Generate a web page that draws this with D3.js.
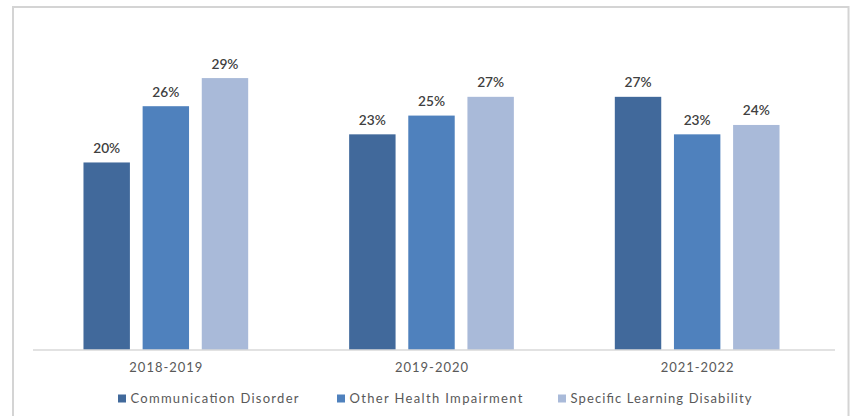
<!DOCTYPE html>
<html>
<head>
<meta charset="utf-8">
<script src="https://cdn.jsdelivr.net/npm/d3@7"></script>
<style>
  html, body { margin: 0; padding: 0; background: #ffffff; }
  svg { display: block; }
  text { font-family: Lato, "Open Sans", "Liberation Sans", sans-serif; }
</style>
</head>
<body>
<script>
// School years shown along the x axis
const categories = ["2018-2019", "2019-2020", "2021-2022"];
// Disability categories (one bar per year each)
const seriesNames = ["Communication Disorder", "Other Health Impairment", "Specific Learning Disability"];
// Share of students in each disability category, per year
const communicationDisorder = [0.20, 0.23, 0.27];
const otherHealthImpairment = [0.26, 0.25, 0.23];
const specificLearningDisability = [0.29, 0.27, 0.24];

const seriesValues = [communicationDisorder, otherHealthImpairment, specificLearningDisability];
const colors = ["#41699b", "#4f81bd", "#a9bad9"];

const W = 853, H = 416;
const baseY = 350;

const svg = d3.select("body").append("svg")
  .attr("width", W).attr("height", H);

// Chart frame
svg.append("rect")
  .attr("x", 13).attr("y", 7)
  .attr("width", 835.5).attr("height", 430)
  .attr("fill", "none")
  .attr("stroke", "#d4d4d4")
  .attr("stroke-width", 2);

const y = d3.scaleLinear().domain([0, 0.30]).range([baseY, baseY - 281.3]);

const x0 = d3.scaleBand()
  .domain(categories)
  .range([33, 830])
  .paddingInner(0.38)
  .paddingOuter(0.19);

const x1 = d3.scaleBand()
  .domain(seriesNames)
  .range([0, x0.bandwidth()])
  .paddingInner(0.215);

// Rows of (year, series, value)
const rows = [];
categories.forEach((c, i) => {
  seriesNames.forEach((s, j) => {
    rows.push({ cat: c, series: s, value: seriesValues[j][i], idx: j });
  });
});

// Bars
svg.append("g").selectAll("rect")
  .data(rows)
  .join("rect")
  .attr("x", d => x0(d.cat) + x1(d.series))
  .attr("y", d => y(d.value))
  .attr("width", x1.bandwidth())
  .attr("height", d => baseY - y(d.value))
  .attr("fill", d => colors[d.idx]);

// Value labels
svg.append("g").selectAll("text")
  .data(rows)
  .join("text")
  .attr("x", d => x0(d.cat) + x1(d.series) + x1.bandwidth() / 2)
  .attr("y", d => y(d.value) - 9.5)
  .attr("text-anchor", "middle")
  .attr("font-size", 13)
  .attr("font-weight", 600)
  .attr("fill", "#404040")
  .attr("textLength", 27)
  .attr("lengthAdjust", "spacingAndGlyphs")
  .text(d => d3.format(".0%")(d.value));

// Category axis
const xAxis = d3.axisBottom(x0).tickSize(0).tickPadding(0);
const axisG = svg.append("g")
  .attr("transform", `translate(0,${baseY})`)
  .call(xAxis);
axisG.select(".domain").remove();
axisG.selectAll("text")
  .attr("y", 22)
  .attr("dy", 0)
  .attr("font-size", 13)
  .attr("font-family", "Lato, 'Open Sans', sans-serif")
  .attr("fill", "#595959")
  .attr("textLength", 73)
  .attr("lengthAdjust", "spacing");

// Baseline
svg.append("line")
  .attr("x1", 33).attr("x2", 835)
  .attr("y1", baseY).attr("y2", baseY)
  .attr("stroke", "#d9d9d9")
  .attr("stroke-width", 1.5);

// Legend
const legendStart = [118, 337, 558];
const legendTextLen = [168, 173, 181];
const legend = svg.append("g").selectAll("g")
  .data(seriesNames)
  .join("g")
  .attr("transform", (d, i) => `translate(${legendStart[i]},0)`);
legend.append("rect")
  .attr("x", 0).attr("y", 394.5)
  .attr("width", 8).attr("height", 8)
  .attr("fill", (d, i) => colors[i]);
legend.append("text")
  .attr("x", 12.5).attr("y", 402.5)
  .attr("font-size", 13)
  .attr("fill", "#595959")
  .attr("textLength", (d, i) => legendTextLen[i])
  .attr("lengthAdjust", "spacing")
  .text(d => d);
</script>
</body>
</html>
